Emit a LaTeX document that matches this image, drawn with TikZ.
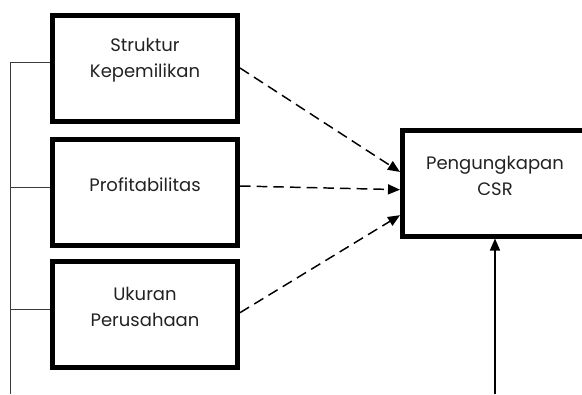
\documentclass[tikz,border=0pt]{standalone}
\usepackage{fontspec}
\setmainfont{Poppins}
\usetikzlibrary{arrows.meta,positioning,calc}
\definecolor{pkInk}{HTML}{000000}
\definecolor{pkLine}{HTML}{3A3A3A}
\definecolor{pkText}{HTML}{222222}

\begin{document}
\begin{tikzpicture}[x=0.75pt, y=-0.75pt,
  varbox/.style={draw=pkInk, line width=3.75pt, minimum width=138.75pt, minimum height=79.5pt, inner sep=0pt},
  varlbl/.style={font=\fontsize{13.5}{19.5}\selectfont, align=center, text=pkText},
  dasharrow/.style={-{Triangle[length=9pt,width=7.5pt]}, line width=1.1pt, dash pattern=on 8pt off 4.5pt},
  solidarrow/.style={-{Triangle[length=9pt,width=7.5pt]}, line width=1.1pt},
  bracket/.style={line width=0.75pt, draw=pkLine}]
  \useasboundingbox (0,0) rectangle (582,394);
  % independent variables
  \foreach \nm/\y/\lbl in {sk/68/{Struktur\\Kepemilikan}, pf/192/{Profitabilitas}, uk/314/{Ukuran\\Perusahaan}}{
    \node[varbox] (\nm) at (145,\y) {};
    \node[varlbl] (\nm-txt) at ([yshift=5.5pt]\nm.center) {\lbl};
  }
  % dependent variable
  \node[varbox] (csr) at (495,183) {};
  \node[varlbl] (csr-txt) at ([yshift=5.5pt]csr.center) {Pengungkapan\\CSR};
  \draw[dasharrow] (sk.east) -- ($(csr.north west)!0.40!(csr.south west)$);
  \draw[dasharrow] ([yshift=4.5pt]pf.east) -- ($(csr.north west)!0.56!(csr.south west)$);
  \draw[dasharrow] ([yshift=1pt]uk.east) -- ($(csr.north west)!0.79!(csr.south west)$);
  \coordinate (foot) at (495,394);
  \draw[solidarrow] (foot) -- (csr.south);
  % left bracket
  \coordinate (base) at (10,394);
  \draw[bracket] ([yshift=4.5pt]sk.west) -| (base);
  \foreach \nm in {pf,uk}{
    \draw[bracket] ([yshift=3.5pt]\nm.west) -| (base);
  }
\end{tikzpicture}
\end{document}
